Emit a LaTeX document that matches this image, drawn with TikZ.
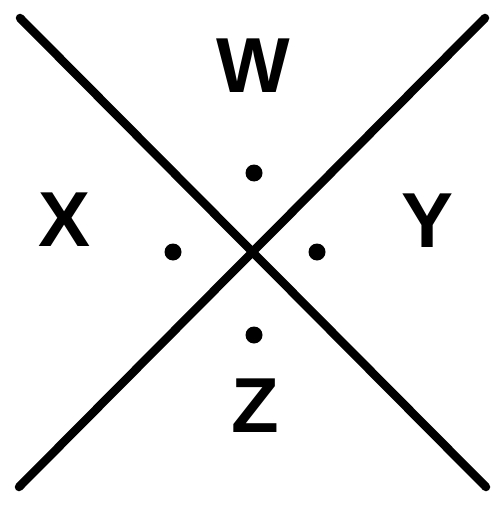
\documentclass[tikz,border=0pt]{standalone}
\usepackage{fontspec}
\setmainfont{Liberation Sans}
\tikzset{
  crossline/.style={line width=8.5pt, line cap=round},
  pt/.style={circle, fill=black, inner sep=0pt, minimum size=17pt},
  lab/.style={font=\fontsize{78}{78}\selectfont\bfseries, inner sep=0pt, anchor=center}
}
\begin{document}
\begin{tikzpicture}[x=1pt,y=-1pt]
\useasboundingbox (0,0) rectangle (495,505);
\coordinate (tl) at (20,18);
\coordinate (br) at (486,487);
\coordinate (tr) at (485,18);
\coordinate (bl) at (19,487);
\draw[crossline] (tl) -- (br);
\draw[crossline] (tr) -- (bl);
\node[pt] (pw) at (254,173) {};
\node[pt] (px) at (173,252) {};
\node[pt] (py) at (317,252) {};
\node[pt] (pz) at (254,335) {};
\node[lab] (W) at (253,66) {W};
\node[lab] (X) at (65,220) {X};
\node[lab] (Y) at (428,221) {Y};
\node[lab] (Z) at (255,406) {Z};
\end{tikzpicture}
\end{document}
